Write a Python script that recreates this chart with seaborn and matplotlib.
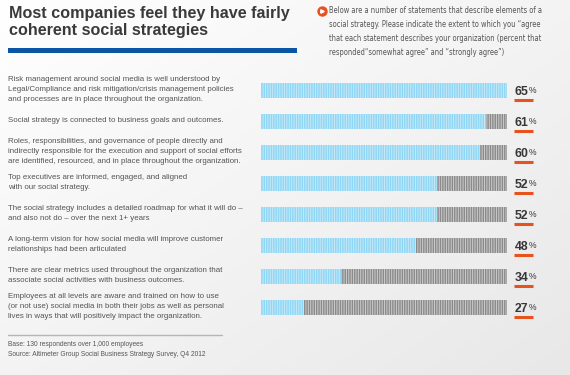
import matplotlib
matplotlib.use("Agg")
import numpy as np
import pandas as pd
import matplotlib.pyplot as plt
import matplotlib.transforms as mtransforms
from matplotlib.colors import LinearSegmentedColormap
from matplotlib.lines import Line2D
from matplotlib.patches import Rectangle
import seaborn as sns

# Chart data
statements = [
    "Risk management around social media is well understood by\n"
    "Legal/Compliance and risk mitigation/crisis management policies\n"
    "and processes are in place throughout the organization.",
    "Social strategy is connected to business goals and outcomes.",
    "Roles, responsibilities, and governance of people directly and\n"
    "indirectly responsible for the execution and support of social efforts\n"
    "are identified, resourced, and in place throughout the organization.",
    "Top executives are informed, engaged, and aligned\n"
    "with our social strategy.",
    "The social strategy includes a detailed roadmap for what it will do –\n"
    "and also not do – over the next 1+ years",
    "A long-term vision for how social media will improve customer\n"
    "relationships had been articulated",
    "There are clear metrics used throughout the organization that\n"
    "associate social activities with business outcomes.",
    "Employees at all levels are aware and trained on how to use\n"
    "(or not use) social media in both their jobs as well as personal\n"
    "lives in ways that will positively impact the organization.",
]
agree_pct = [65, 61, 60, 52, 52, 48, 34, 27]
axis_start = 19
axis_end = 65

title = "Most companies feel they have fairly\ncoherent social strategies"
note = ("Below are a number of statements that describe elements of a\n"
        "social strategy. Please indicate the extent to which you \u201cagree\n"
        "that each statement describes your organization (percent that\n"
        "responded\u201csomewhat agree\u201d and \u201cstrongly agree\u201d)")
footnotes = ["Base: 130 respondents over 1,000 employees",
             "Source: Altimeter Group Social Business Strategy Survey, Q4 2012"]

sns.set_theme(style="white")
plt.rcParams['font.family'] = ['Liberation Sans', 'DejaVu Sans']
plt.rcParams['hatch.linewidth'] = 0.7

df = pd.DataFrame({"statement": statements, "pct": agree_pct, "track": axis_end})

W, H = 570, 375
fig = plt.figure(figsize=(W / 100, H / 100), dpi=100)

# soft grey background gradient
bg = fig.add_axes([0, 0, 1, 1], zorder=-10)
g = np.linspace(0, 1, 256)
gx, gy = np.meshgrid(g, g)
bg_cmap = LinearSegmentedColormap.from_list("bg", ["#ffffff", "#e8e8e8"])
bg.imshow((gx + gy) / 2, cmap=bg_cmap, aspect="auto", extent=[0, 1, 0, 1], origin="upper")
bg.axis("off")

ax = fig.add_axes([261 / W, 1 - 323 / H, 246 / W, 248 / H])
ax.patch.set_alpha(0)

# grey track behind, blue share on top
sns.barplot(data=df, x="track", y="statement", orient="h", color="#8a8a8a",
            saturation=1, width=0.48, errorbar=None, hatch="|" * 7,
            edgecolor="#cdcdcd", linewidth=0, ax=ax)
sns.barplot(data=df, x="pct", y="statement", orient="h", color="#8fd6f4",
            saturation=1, width=0.48, errorbar=None, hatch="|" * 7,
            edgecolor="#c4eafa", linewidth=0, ax=ax)
ax.set_xlim(axis_start, axis_end)
ax.set_ylim(len(statements) - 0.5, -0.5)
ax.set_axis_off()

lab_trans = mtransforms.blended_transform_factory(fig.transFigure, ax.transData)
val_trans = mtransforms.blended_transform_factory(ax.transAxes, ax.transData)
for i, (s, v) in enumerate(zip(statements, agree_pct)):
    ax.text(8 / W, i - 0.03, s, transform=lab_trans, ha="left", va="center",
            fontsize=5.7, color="#555555", linespacing=1.6)
    t = ax.text(1.032, i + 0.04, str(v), transform=val_trans, ha="left", va="center",
                fontsize=8.8, fontweight="bold", color="#363636")
    ax.annotate("%", xy=(1, 0.62), xycoords=t, xytext=(0.2, 0),
                textcoords="offset points", ha="left", va="center",
                fontsize=6.2, color="#363636")
    ax.plot([1.0285, 1.106], [i + 0.3, i + 0.3], transform=val_trans,
            color="#e8521f", lw=2.2, clip_on=False, solid_capstyle="butt")

# title and blue rule
fig.text(9 / W, 1 - 6 / H, title, fontsize=11.6, fontweight="bold",
         color="#3a3a3a", va="top", ha="left", linespacing=1.18)
fig.add_artist(Rectangle((8 / W, 1 - 52.5 / H), 289 / W, 5 / H,
                         transform=fig.transFigure, color="#0b55a5", lw=0))

# note with orange bullet
fig.add_artist(Line2D([321.5 / W], [1 - 10.5 / H], marker="o", ms=6.5,
                      color="#e8521f", transform=fig.transFigure))
fig.add_artist(Line2D([322 / W], [1 - 10.5 / H], marker=">", ms=2.5,
                      color="white", transform=fig.transFigure))
fig.text(329 / W, 1 - 6 / H, note, fontsize=5.45, family="DejaVu Sans",
         stretch="condensed", color="#555555", va="top", ha="left",
         linespacing=1.7)

# footer
fig.add_artist(Line2D([8 / W, 222 / W], [1 - 335 / H, 1 - 335 / H],
                      color="#b5b5b5", lw=1, transform=fig.transFigure))
fig.text(8 / W, 1 - 345 / H, footnotes[0], fontsize=4.8, color="#555555", va="center")
fig.text(8 / W, 1 - 354 / H, footnotes[1], fontsize=4.8, color="#555555", va="center")

fig.savefig("out.png", dpi=100)
